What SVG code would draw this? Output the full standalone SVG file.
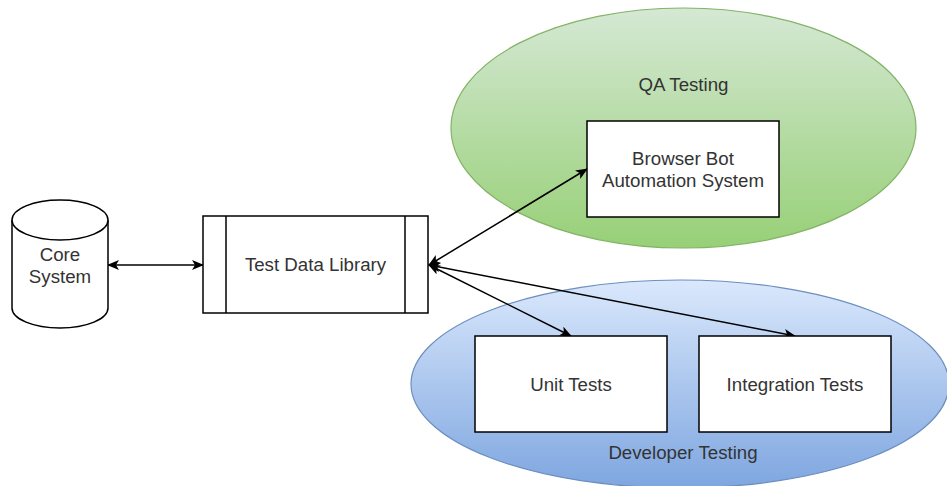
<svg xmlns="http://www.w3.org/2000/svg" width="947" height="486" viewBox="0 0 947 486">
<style>
.box{fill:#ffffff;stroke:#000000;stroke-width:1.5}
.lbl{font-family:"Liberation Sans",Arial,sans-serif;font-size:18.7px;fill:#333333;text-anchor:middle}
.edge{fill:none;stroke:#000000;stroke-width:1.5;marker-start:url(#arr);marker-end:url(#arr)}
</style>
<defs>
<linearGradient id="gGreen" x1="0" y1="0" x2="0" y2="1">
<stop offset="0" stop-color="#d5e8d4"/>
<stop offset="1" stop-color="#97d077"/>
</linearGradient>
<linearGradient id="gBlue" x1="0" y1="0" x2="0" y2="1">
<stop offset="0" stop-color="#dae8fc"/>
<stop offset="1" stop-color="#7ea6e0"/>
</linearGradient>
<marker id="arr" viewBox="0 0 12 10" refX="11" refY="5" markerWidth="12" markerHeight="10" markerUnits="userSpaceOnUse" orient="auto-start-reverse">
<path d="M0,0 L12,5 L0,10 L3,5 Z" fill="#000000"/>
</marker>
</defs>
<g id="qa-testing">
<ellipse cx="683.5" cy="128" rx="232.5" ry="120" fill="url(#gGreen)" stroke="#82b366" stroke-width="1.2"/>
<text class="lbl" x="683.5" y="91">QA Testing</text>
</g>
<g id="developer-testing">
<ellipse cx="680" cy="384" rx="269" ry="104" fill="url(#gBlue)" stroke="#6c8ebf" stroke-width="1.2"/>
<text class="lbl" x="683" y="459">Developer Testing</text>
</g>
<g id="connectors">
<line class="edge" x1="108" y1="265" x2="203" y2="265"/>
<line class="edge" x1="429" y1="265" x2="587" y2="169"/>
<line class="edge" x1="429" y1="265" x2="571" y2="336"/>
<line class="edge" x1="429" y1="265" x2="795" y2="336"/>
</g>
<g id="core-system">
<path class="box" d="M12,220 L12,308 A48,20 0 0 0 108,308 L108,220 A48,20 0 0 0 12,220 Z"/>
<path class="box" fill="none" d="M12,220 A48,20 0 0 0 108,220"/>
<text class="lbl" x="60" y="261">Core</text>
<text class="lbl" x="60" y="283">System</text>
</g>
<g id="test-data-library">
<rect class="box" x="203" y="216" width="225" height="97"/>
<line class="box" x1="226" y1="216" x2="226" y2="313"/>
<line class="box" x1="405" y1="216" x2="405" y2="313"/>
<text class="lbl" x="315.5" y="271">Test Data Library</text>
</g>
<g id="browser-bot">
<rect class="box" x="587" y="121" width="192" height="96"/>
<text class="lbl" x="683" y="165">Browser Bot</text>
<text class="lbl" x="683" y="187">Automation System</text>
</g>
<g id="unit-tests">
<rect class="box" x="475" y="336" width="192" height="96"/>
<text class="lbl" x="571" y="391">Unit Tests</text>
</g>
<g id="integration-tests">
<rect class="box" x="699" y="336" width="192" height="96"/>
<text class="lbl" x="795" y="391">Integration Tests</text>
</g>
</svg>
